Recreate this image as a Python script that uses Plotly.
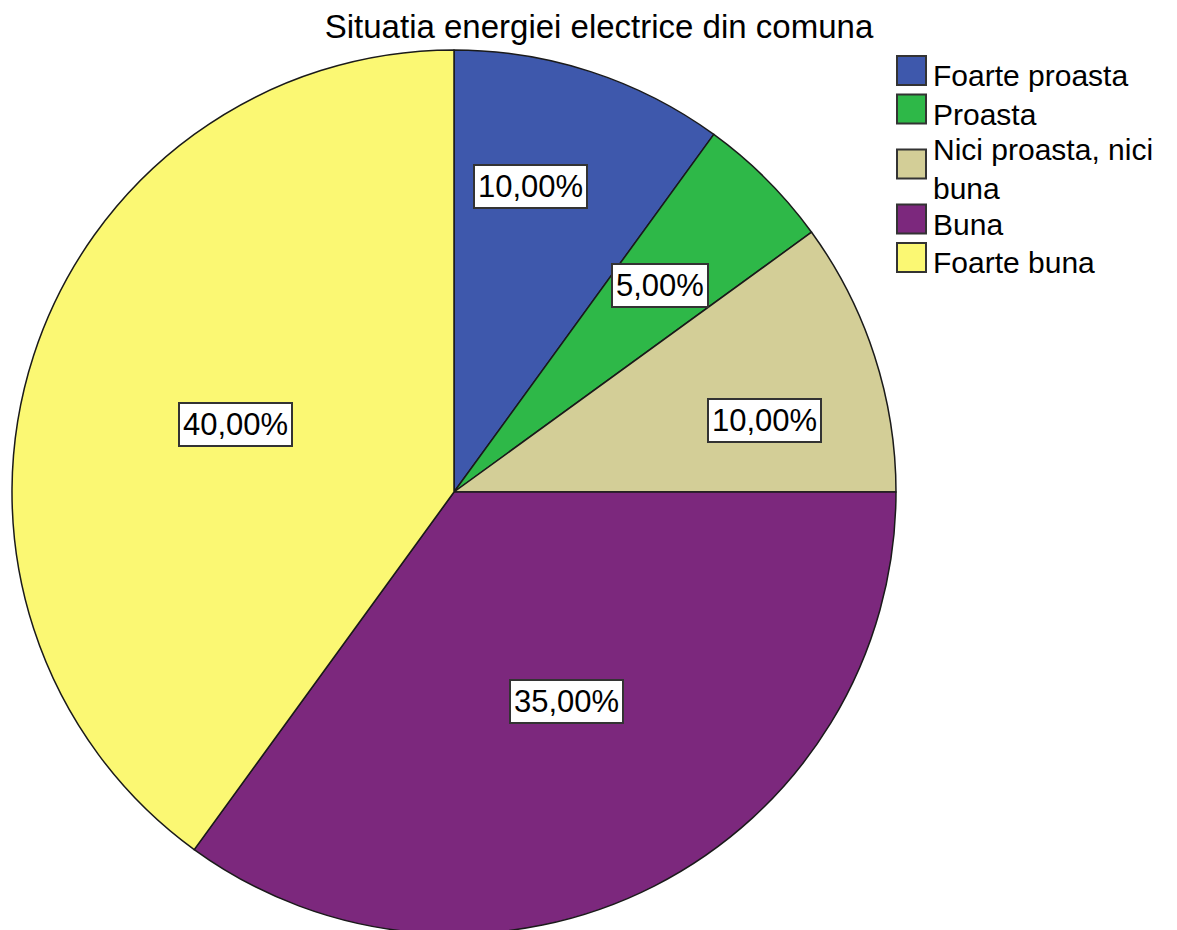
import math
import textwrap
import plotly.graph_objects as go

# ---- data ----
categories = ["Foarte proasta", "Proasta", "Nici proasta, nici buna", "Buna", "Foarte buna"]
percentages = [10.0, 5.0, 10.0, 35.0, 40.0]
colors = ["#3E58AC", "#2EB848", "#D3CE97", "#7C287D", "#FBF873"]
title_text = "Situatia energiei electrice din comuna"

# ---- layout constants (style) ----
W, H = 1177, 930
OFF = 8  # page body margin offset in the browser
FONT = "Liberation Sans, Arial, sans-serif"


def px_x(sx):
    return (sx - OFF) / W


def px_y(sy):
    return 1 - (sy - OFF) / H


# pie box in screen pixels: center (454, 492), radius 442
PCX, PCY, PR = 454, 492, 442
dom_x = [px_x(PCX - PR), px_x(PCX + PR)]
dom_y = [px_y(PCY + PR), px_y(PCY - PR)]

# label placement style: radial fraction and small angular nudge per slice
label_radius = [0.713, 0.66, 0.722, 0.539, 0.518]
label_nudge = [-4, 0, 5, -1.3, -0.8]

fig = go.Figure(
    go.Pie(
        labels=categories,
        values=percentages,
        marker=dict(colors=colors, line=dict(color="#1a1a1a", width=1.5)),
        sort=False,
        direction="clockwise",
        rotation=0,
        textinfo="none",
        hoverinfo="label+percent",
        domain=dict(x=dom_x, y=dom_y),
        showlegend=False,
    )
)

annotations = []
shapes = []

# percentage labels in white boxes, placed from each slice's mid-angle
total = sum(percentages)
cum = 0.0
for i, v in enumerate(percentages):
    mid = (cum + v / 2) / total * 360 + label_nudge[i]
    cum += v
    rr = label_radius[i] * PR
    sx = PCX + rr * math.sin(math.radians(mid))
    sy = PCY - rr * math.cos(math.radians(mid))
    txt = f"{v:.2f}".replace(".", ",") + "%"
    annotations.append(dict(
        x=px_x(sx), y=px_y(sy), xref="paper", yref="paper",
        text=txt, showarrow=False, xanchor="center", yanchor="middle",
        font=dict(family=FONT, size=31, color="#000"),
        bgcolor="#ffffff", bordercolor="#333333", borderwidth=2, borderpad=3,
    ))

# custom legend with large swatches
sw_x0, sw_size = 897, 29
text_x = 931
yc = 70.5
prev_h = None
for i, cat in enumerate(categories):
    lines = textwrap.wrap(cat, width=18)
    n = len(lines)
    h = 38.5 + 33 * (n - 1)
    if prev_h is not None:
        yc += prev_h / 2 + h / 2
    prev_h = h
    shapes.append(dict(
        type="rect", xref="paper", yref="paper",
        x0=px_x(sw_x0), x1=px_x(sw_x0 + sw_size),
        y0=px_y(yc - sw_size / 2), y1=px_y(yc + sw_size / 2),
        fillcolor=colors[i], line=dict(color="#333333", width=2),
    ))
    annotations.append(dict(
        x=px_x(text_x), y=px_y(yc + 5), xref="paper", yref="paper",
        text="<br>".join(lines), showarrow=False, xanchor="left", yanchor="middle",
        align="left",
        font=dict(family=FONT, size=30, color="#000"),
    ))

fig.update_layout(
    width=W, height=H,
    margin=dict(l=0, r=0, t=0, b=0),
    paper_bgcolor="#ffffff", plot_bgcolor="#ffffff",
    title=dict(text=title_text, x=px_x(599), xanchor="center",
               y=px_y(26), yanchor="middle", yref="container",
               font=dict(family=FONT, size=33, color="#000")),
    annotations=annotations,
    shapes=shapes,
    showlegend=False,
)

fig.write_html("out.html")
